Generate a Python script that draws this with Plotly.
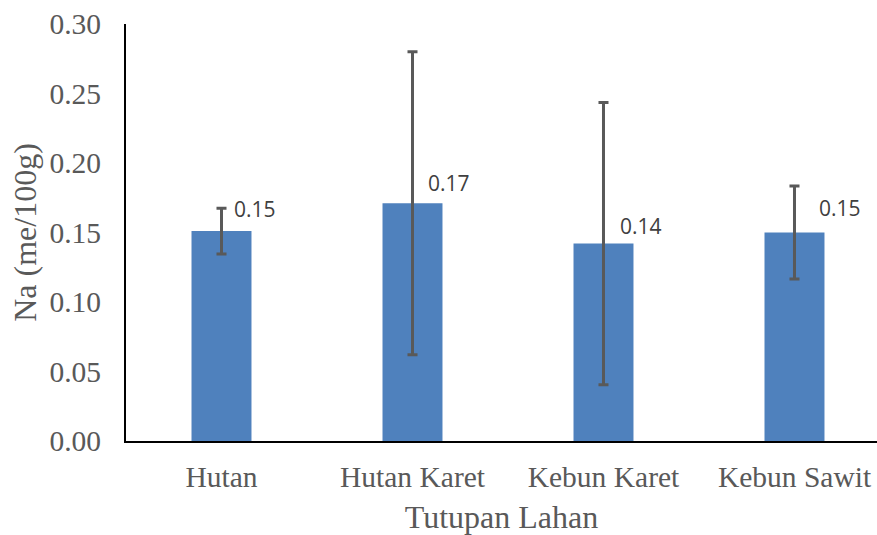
import plotly.graph_objects as go

categories = ["Hutan", "Hutan Karet", "Kebun Karet", "Kebun Sawit"]
na_values = [0.151, 0.171, 0.142, 0.150]
na_sd = [0.0165, 0.109, 0.1015, 0.0335]
label_texts = ["0.15", "0.17", "0.14", "0.15"]
y_ticks = [0.00, 0.05, 0.10, 0.15, 0.20, 0.25, 0.30]
y_tick_labels = ["0.00", "0.05", "0.10", "0.15", "0.20", "0.25", "0.30"]

# label placement offsets (pixels), style only
label_xshift = [10, 13, 15, 23]
label_yshift = [22, 20, 18, 25]

fig = go.Figure()
fig.add_trace(go.Bar(
    x=categories, y=na_values,
    marker=dict(color="#4F81BD", line=dict(width=0)),
    width=0.314,
    error_y=dict(type="data", array=na_sd, visible=True,
                 color="#595959", thickness=3, width=5),
    hoverinfo="skip",
))

for cat, val, txt, dx, dy in zip(categories, na_values, label_texts,
                                 label_xshift, label_yshift):
    fig.add_annotation(
        x=cat, y=val, text=txt, showarrow=False,
        xanchor="left", yanchor="middle", xshift=dx, yshift=dy,
        font=dict(family="Open Sans", size=21, color="#404040"),
    )

serif = "Liberation Serif"
fig.update_layout(
    width=877, height=535,
    margin=dict(l=126, r=0, t=24, b=94),
    paper_bgcolor="white", plot_bgcolor="white",
    showlegend=False,
    xaxis=dict(
        range=[-0.5, 3.432], automargin=False,
        showline=True, linecolor="black", linewidth=2,
        showgrid=False, ticks="", ticklabelstandoff=9,
        tickfont=dict(family=serif, size=29.5, color="#595959"),
        title=dict(text="Tutupan Lahan", standoff=19,
                   font=dict(family=serif, size=32, color="#595959")),
    ),
    yaxis=dict(
        range=[0, 0.30], automargin=False,
        tickvals=y_ticks, ticktext=y_tick_labels,
        showline=True, linecolor="black", linewidth=2,
        showgrid=False, zeroline=False, ticks="", ticklabelstandoff=17,
        tickfont=dict(family=serif, size=29.5, color="#595959"),
        title=dict(text="Na (me/100g)", standoff=3,
                   font=dict(family=serif, size=32, color="#595959")),
    ),
)

fig.write_html(
    "out.html",
    config={"displayModeBar": False},
    post_script="document.body.style.margin='0';"
                "document.documentElement.style.overflow='hidden';",
)
